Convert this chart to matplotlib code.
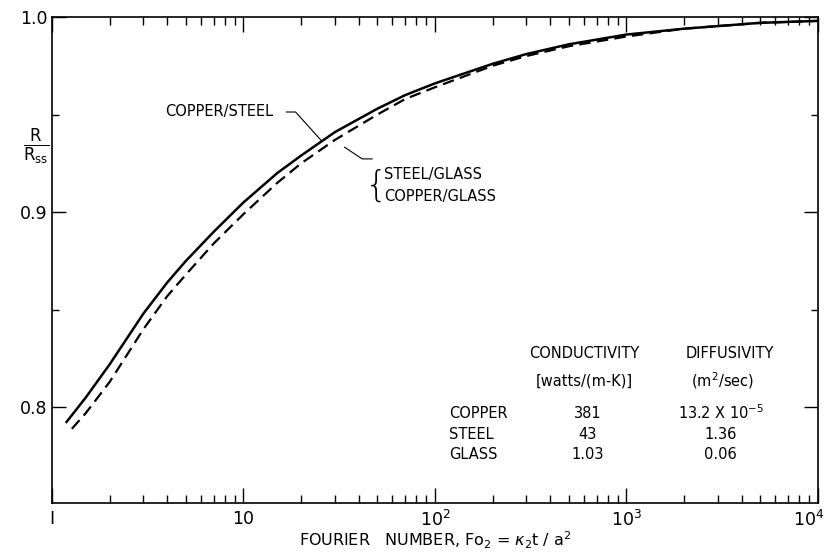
"""Transient resistance ratio R/Rss versus Fourier number for three contact pairs."""

import matplotlib

matplotlib.use("Agg")
import matplotlib.pyplot as plt  # noqa: E402
import matplotlib.transforms as mtransforms  # noqa: E402
from matplotlib.ticker import FixedLocator, LogLocator, NullFormatter  # noqa: E402

# --- data --------------------------------------------------------------------
fourier_solid = [1.18, 1.5, 2, 3, 4, 5, 7, 10, 15, 20, 30, 50, 70, 100,
                 200, 300, 500, 1000, 2000, 5000, 10000]
ratio_copper_steel = [0.792, 0.805, 0.822, 0.848, 0.864, 0.875, 0.890, 0.905,
                      0.920, 0.929, 0.941, 0.953, 0.960, 0.966, 0.976, 0.981,
                      0.986, 0.991, 0.994, 0.997, 0.998]

fourier_dashed = [1.27, 1.5, 2, 3, 4, 5, 7, 10, 15, 20, 30, 50, 70, 100,
                  200, 300, 500, 1000, 2000, 5000, 10000]
ratio_glass = [0.789, 0.797, 0.813, 0.840, 0.857, 0.868, 0.884, 0.899, 0.915,
               0.925, 0.937, 0.950, 0.958, 0.964, 0.975, 0.980, 0.985, 0.990,
               0.994, 0.997, 0.998]

x_major = [1, 10, 100, 1000, 10000]
x_labels = ["I", "10", r"$\mathregular{10^2}$", r"$\mathregular{10^3}$",
            r"$\mathregular{10^4}$"]
y_major = [0.8, 0.9, 1.0]
y_labels = ["0.8", "0.9", "1.0"]
y_minor = [0.85, 0.95]

materials = ["COPPER", "STEEL", "GLASS"]
conductivity = ["381", "43", "1.03"]
diffusivity = [r"13.2 X 10$^{\mathregular{-5}}$", "1.36", "0.06"]

plt.rcParams["font.family"] = ["DejaVu Sans"]
plt.rcParams["mathtext.fontset"] = "dejavusans"

fig = plt.figure(figsize=(8.29, 5.55), dpi=100)
ax = fig.add_axes([0.0627, 0.0937, 0.924, 0.8757])

ax.plot(fourier_solid, ratio_copper_steel, color="black", lw=1.8,
        solid_capstyle="butt")
ax.plot(fourier_dashed, ratio_glass, color="black", lw=1.6,
        linestyle=(0, (5.2, 2.8)))

ax.set_xscale("log")
ax.set_xlim(1, 1e4)
ax.set_ylim(0.751, 1.0)

ax.xaxis.set_major_locator(FixedLocator(x_major))
ax.set_xticklabels(x_labels)
ax.xaxis.set_minor_locator(LogLocator(base=10, subs=range(2, 10)))
ax.xaxis.set_minor_formatter(NullFormatter())
ax.yaxis.set_major_locator(FixedLocator(y_major))
ax.set_yticklabels(y_labels)
ax.yaxis.set_minor_locator(FixedLocator(y_minor))

ax.tick_params(which="both", direction="in", top=True, right=True,
               width=1.0, labelsize=12.5)
ax.tick_params(axis="x", which="major", length=11, pad=5)
ax.tick_params(axis="x", which="minor", length=6)
ax.tick_params(axis="y", which="major", length=10, pad=3)
ax.tick_params(axis="y", which="minor", length=5)
for spine in ax.spines.values():
    spine.set_linewidth(1.2)

# nudge the last x label so it stays inside the figure
last = ax.get_xticklabels()[-1]
last.set_transform(last.get_transform() + mtransforms.ScaledTranslation(
    -7 / 72, 0, fig.dpi_scale_trans))

ax.set_xlabel(r"FOURIER   NUMBER, Fo$_2$ = $\kappa_2$t / a$^2$",
              fontsize=11.5, labelpad=0)
fig.text(0.043, 0.735, r"$\frac{\mathregular{R}}{\mathregular{R_{ss}}}$",
         fontsize=17, ha="center", va="center")

# curve annotations (axes-fraction positions)
tf = ax.transAxes
ax.text(0.1475, 0.8045, "COPPER/STEEL", transform=tf, fontsize=10.5,
        ha="left", va="center")
ax.plot([0.306, 0.318, 0.352], [0.8045, 0.8045, 0.745], transform=tf,
        color="black", lw=0.8)
ax.text(0.423, 0.652, "{", transform=tf, fontsize=26, ha="center",
        va="center", fontweight="light")
ax.text(0.434, 0.675, "STEEL/GLASS", transform=tf, fontsize=10.5,
        ha="left", va="center")
ax.text(0.434, 0.630, "COPPER/GLASS", transform=tf, fontsize=10.5,
        ha="left", va="center")
ax.plot([0.382, 0.405, 0.418], [0.732, 0.708, 0.708], transform=tf,
        color="black", lw=0.8)

# property table
ax.text(0.6945, 0.3086, "CONDUCTIVITY", transform=tf, fontsize=10.5,
        ha="center", va="center")
ax.text(0.885, 0.3086, "DIFFUSIVITY", transform=tf, fontsize=10.5,
        ha="center", va="center")
ax.text(0.6945, 0.251, "[watts/(m-K)]", transform=tf, fontsize=10.5,
        ha="center", va="center")
ax.text(0.875, 0.251, r"(m$^{\mathregular{2}}$/sec)", transform=tf,
        fontsize=10.5, ha="center", va="center")
row_y = [0.185, 0.140, 0.0988]
for name, k, d, yy in zip(materials, conductivity, diffusivity, row_y):
    ax.text(0.518, yy, name, transform=tf, fontsize=10.5, ha="left",
            va="center")
    ax.text(0.699, yy, k, transform=tf, fontsize=10.5, ha="center",
            va="center")
    ax.text(0.873, yy, d, transform=tf, fontsize=10.5, ha="center",
            va="center")

fig.savefig("out.png", dpi=100)
plt.close(fig)
